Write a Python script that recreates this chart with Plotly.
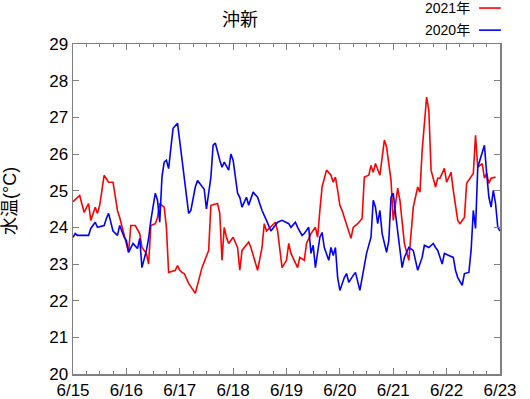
import datetime as dt
import plotly.graph_objects as go

# ---- data (hours after 2021-06-15 00:00, water temperature in °C) ----
hours_2021 = [0, 3, 5, 7, 8, 10, 11, 12, 14, 16, 18, 20, 21, 23, 24, 25, 26, 28, 30, 31,
              33, 34, 35, 37, 38, 39, 41, 42, 43, 46, 47, 48, 49, 50, 52, 55, 58, 60, 61, 62,
              65, 66, 67, 68, 69, 70, 72, 74, 75, 76, 79, 80, 83, 85, 86, 87, 91, 92, 93, 94,
              96, 97, 98, 101, 102, 104, 105, 107, 109, 110, 111, 112, 114, 116, 117, 118, 119, 120, 121, 123,
              124, 125, 126, 128, 130, 131, 133, 134, 135, 136, 138, 139, 140, 141, 143, 144, 146, 147, 149, 151,
              152, 153, 155, 156, 157, 158, 159, 160, 161, 163, 164, 165, 167, 168, 170, 171, 173, 174, 176, 177,
              179, 180, 181, 182, 184, 185, 186, 187, 188, 190]
temp_2021 = [24.7, 24.87, 24.41, 24.65, 24.19, 24.55, 24.38, 24.6, 25.42, 25.23, 25.23, 24.46, 24.27, 23.83, 23.56, 23.32, 24.05, 24.05, 23.83, 23.45,
             23.29, 23.0, 24.05, 24.1, 24.27, 24.65, 24.55, 24.0, 22.77, 22.83, 22.96, 22.83, 22.77, 22.74, 22.47, 22.2, 22.9, 23.2, 23.37, 24.6,
             24.65, 24.38, 23.1, 24.0, 23.73, 23.56, 23.73, 23.45, 22.83, 23.37, 23.6, 23.45, 22.83, 23.45, 24.1, 23.9, 24.14, 23.9, 23.45, 22.9,
             23.1, 23.56, 23.29, 22.9, 23.18, 23.1, 23.56, 23.83, 24.0, 23.73, 24.46, 25.1, 25.56, 25.42, 25.23, 25.37, 25.01, 24.6, 24.46, 24.1,
             23.9, 23.7, 24.0, 24.1, 24.24, 25.37, 25.42, 25.69, 25.5, 25.74, 25.42, 25.83, 26.38, 26.19, 25.28, 24.19, 25.07, 24.74, 23.56, 23.1,
             23.73, 24.55, 25.1, 24.96, 26.1, 26.73, 27.55, 27.2, 25.56, 25.1, 25.34, 25.34, 25.61, 25.23, 25.5, 25.01, 24.19, 24.1, 24.27, 25.2,
             25.37, 25.47, 26.51, 25.64, 25.74, 25.34, 25.47, 25.2, 25.34, 25.37]

hours_2020 = [0, 1, 2, 7, 8, 10, 11, 14, 15, 16, 18, 20, 21, 23, 24, 25, 27, 29, 30, 31,
              33, 34, 35, 37, 38, 39, 40, 41, 42, 43, 44, 45, 47, 48, 49, 50, 52, 53, 55, 56,
              58, 59, 60, 62, 63, 64, 66, 67, 68, 70, 71, 72, 74, 75, 76, 78, 79, 81, 83, 85,
              87, 89, 92, 94, 97, 98, 100, 101, 103, 104, 106, 107, 108, 109, 111, 112, 113, 115, 116, 117,
              118, 119, 120, 122, 123, 124, 126, 127, 129, 131, 132, 134, 135, 136, 137, 138, 139, 141, 142, 143,
              144, 145, 146, 148, 149, 151, 153, 154, 155, 157, 158, 160, 162, 163, 164, 166, 167, 169, 171, 172,
              173, 175, 176, 178, 179, 180, 181, 182, 184, 185, 186, 187, 188, 189, 190, 191, 192]
temp_2020 = [23.73, 23.83, 23.78, 23.78, 23.97, 24.14, 24.0, 24.05, 24.24, 24.38, 23.9, 23.78, 24.05, 23.73, 23.64, 23.32, 23.56, 23.42, 23.7, 22.9,
             23.37, 23.7, 24.19, 24.93, 24.74, 24.14, 25.37, 25.78, 25.83, 25.6, 26.16, 26.7, 26.84, 26.38, 25.83, 25.37, 24.38, 24.46, 25.1, 25.28,
             25.1, 25.04, 24.5, 25.37, 26.24, 26.3, 25.83, 25.64, 25.78, 25.56, 26.0, 25.83, 24.93, 24.82, 24.55, 24.82, 24.6, 24.96, 24.82, 24.46,
             24.19, 23.9, 24.14, 24.19, 24.1, 24.0, 24.14, 24.0, 23.78, 23.83, 24.0, 23.29, 23.51, 22.9, 23.73, 23.86, 23.45, 23.1, 23.45, 23.23,
             23.45, 22.63, 22.28, 22.63, 22.74, 22.5, 22.69, 22.77, 22.28, 23.0, 23.29, 23.73, 24.74, 24.55, 24.1, 24.46, 23.83, 23.32, 23.64, 24.82,
             24.93, 24.38, 23.9, 22.9, 23.18, 23.45, 23.37, 23.1, 22.83, 23.18, 23.51, 23.45, 23.56, 23.45, 23.37, 23.0, 23.29, 23.23, 23.18, 22.83,
             22.63, 22.42, 22.74, 22.77, 23.37, 24.46, 23.97, 25.64, 26.02, 26.24, 25.47, 24.82, 24.55, 25.01, 24.65, 24.0, 23.9]

series_names = ["2021年", "2020年"]
series_colors = ["#ff0000", "#0000ff"]
title_text = "沖新"
y_title = "水温(°C)"
start = dt.datetime(2021, 6, 15)
end = dt.datetime(2021, 6, 23)

def to_times(hs):
    return [start + dt.timedelta(hours=h) for h in hs]

FONT = "Liberation Sans, Arial, Noto Sans CJK JP, sans-serif"

fig = go.Figure()
for name, hs, ts, col in [(series_names[0], hours_2021, temp_2021, series_colors[0]),
                          (series_names[1], hours_2020, temp_2020, series_colors[1])]:
    fig.add_trace(go.Scatter(x=to_times(hs), y=ts, mode="lines", name=name,
                             line=dict(color=col, width=1.6), showlegend=False))

axis_common = dict(showline=True, linecolor="#808080", linewidth=1.5, mirror="ticks",
                   ticks="inside", tickcolor="#808080", tickwidth=1, showgrid=False, zeroline=False,
                   tickfont=dict(family=FONT, size=17, color="black"))

fig.update_layout(
    width=530, height=399,
    margin=dict(l=73, r=30, t=44, b=25, autoexpand=False),
    paper_bgcolor="white", plot_bgcolor="white",
    xaxis=dict(type="date", range=[start, end], tick0=start, dtick=86400000,
               tickformat="%-m/%d", ticklen=6,
               minor=dict(dtick=6 * 3600000, ticks="inside", ticklen=3, tickcolor="#808080", showgrid=False),
               **axis_common),
    yaxis=dict(range=[20, 29], dtick=1, ticklen=6,
               minor=dict(dtick=1, ticks="", showgrid=False),
               **axis_common),
)

annots = [
    dict(text=title_text, x=0.391, y=1.073, xref="paper", yref="paper", showarrow=False,
         xanchor="center", yanchor="middle", font=dict(family=FONT, size=18, color="black")),
    dict(text=y_title, x=-0.148, y=0.524, xref="paper", yref="paper", showarrow=False,
         textangle=-90, xanchor="center", yanchor="middle", font=dict(family=FONT, size=18, color="black")),
]
leg_y = [1.109, 1.042]
for name, col, yy in zip(series_names, series_colors, leg_y):
    annots.append(dict(text=name, x=0.934, y=yy, xref="paper", yref="paper", showarrow=False,
                       xanchor="right", yanchor="middle", font=dict(family=FONT, size=14, color="black")))
    fig.add_shape(type="line", xref="paper", yref="paper", x0=0.951, x1=1.002, y0=yy, y1=yy,
                  line=dict(color=col, width=1.6))
fig.update_layout(annotations=annots)

fig.write_html("out.html", config={"displayModeBar": False, "staticPlot": True},
               post_script="document.body.style.margin='0';document.body.style.overflow='hidden';")
